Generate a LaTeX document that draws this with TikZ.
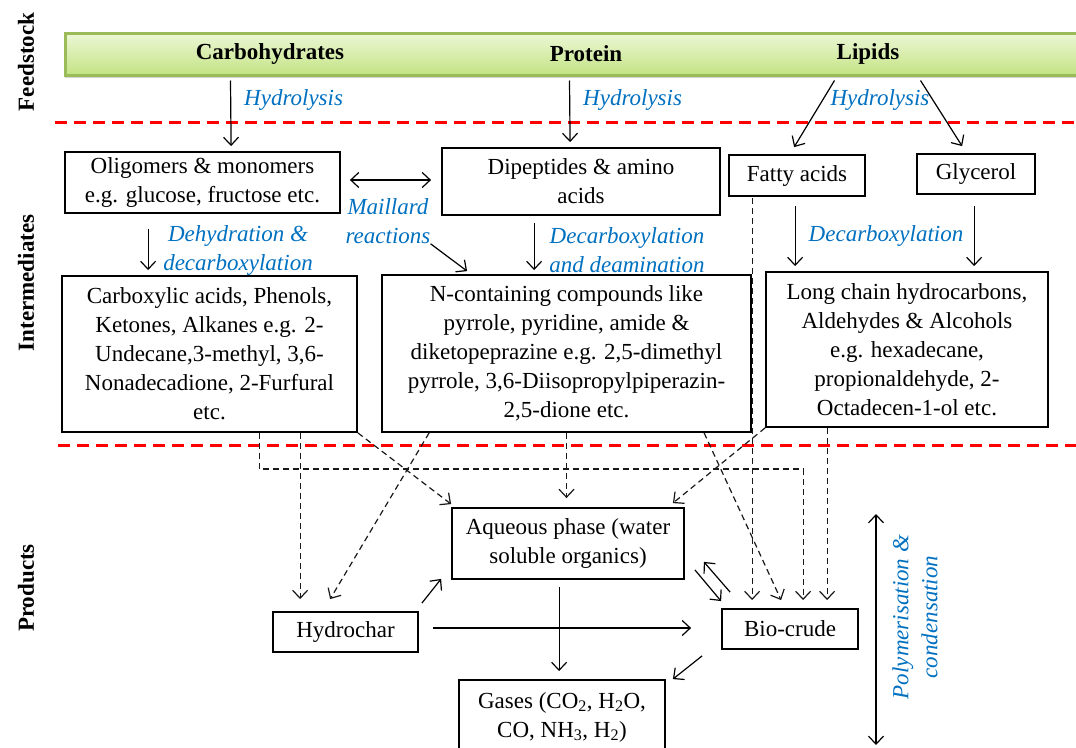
\documentclass[tikz,border=0pt]{standalone}
\usepackage{fontspec}
\setmainfont{Liberation Serif}
\usetikzlibrary{arrows.meta,shadows,calc}
\definecolor{lblue}{RGB}{0,112,192}
\definecolor{gborder}{RGB}{155,187,89}
\definecolor{gtop}{RGB}{236,247,214}
\definecolor{gbot}{RGB}{196,227,132}
\begin{document}
\begin{tikzpicture}[x=1pt,y=-1pt,
  every node/.style={font=\fontsize{23}{29}\selectfont, inner sep=0pt},
  box/.style={draw=black, line width=1.8pt, align=center},
  lbl/.style={text=lblue, font=\fontsize{23}{29}\selectfont\itshape, align=center},
  side/.style={rotate=90, font=\fontsize{23}{29}\selectfont\bfseries},
  head/.style={font=\fontsize{23}{29}\selectfont\bfseries},
  arr/.style={line width=1.2pt, -{Straight Barb[length=8pt,width=15pt]}},
  darr/.style={line width=1.2pt, {Straight Barb[length=8pt,width=15pt]}-{Straight Barb[length=8pt,width=15pt]}},
  dsh/.style={line width=1.2pt, black!90, dash pattern=on 6pt off 4pt, -{Straight Barb[length=8pt,width=15pt]}},
  redline/.style={red, line width=3pt, dash pattern=on 12pt off 7pt},
]
\useasboundingbox (0,0) rectangle (1076,747);

% feedstock bar
\node[draw=gborder, line width=3pt, top color=gtop, bottom color=gbot,
      minimum width=1015pt, minimum height=42pt,
      drop shadow={shadow xshift=0pt, shadow yshift=-3pt, opacity=0.35}] (feed) at (572.5,54) {};
\node[head] (tcarb) at (270,54) {Carbohydrates};
\node[head] (tprot) at (586,54) {Protein};
\node[head] (tlip) at (868,54) {Lipids};

% side labels
\node[side] (sfeed) at (26,62) {Feedstock};
\node[side] (sint) at (26,283) {Intermediates};
\node[side] (sprod) at (26,588) {Products};

% red separators
\coordinate (r1a) at (55,122); \coordinate (r1b) at (1076,122);
\coordinate (r2a) at (58,445); \coordinate (r2b) at (1076,445);
\draw[redline] (r1a) -- (r1b);
\draw[redline] (r2a) -- (r2b);

% boxes
\node[box, minimum width=275pt, minimum height=61pt] (olig) at (202.5,182.5) {Oligomers \& monomers\\e.g. glucose, fructose etc.};
\node[box, minimum width=278pt, minimum height=67pt] (dip) at (581,181.5) {Dipeptides \& amino\\acids};
\node[box, minimum width=136pt, minimum height=41pt] (fatty) at (797,175.5) {Fatty acids};
\node[box, minimum width=118pt, minimum height=40pt] (glyc) at (976,174) {Glycerol};
\node[box, minimum width=295pt, minimum height=156pt] (carb) at (209.5,354) {Carboxylic acids, Phenols,\\Ketones, Alkanes e.g. 2-\\Undecane,3-methyl, 3,6-\\Nonadecadione, 2-Furfural\\etc.};
\node[box, minimum width=369pt, minimum height=157pt] (ncont) at (566.5,353.5) {N-containing compounds like\\pyrrole, pyridine, amide \&\\diketopeprazine e.g. 2,5-dimethyl\\pyrrole, 3,6-Diisopropylpiperazin-\\2,5-dione etc.};
\node[box, minimum width=282pt, minimum height=155pt] (long) at (907,349.5) {Long chain hydrocarbons,\\Aldehydes \& Alcohols\\e.g. hexadecane,\\propionaldehyde, 2-\\Octadecen-1-ol etc.};
\node[box, minimum width=232pt, minimum height=71pt] (aq) at (568,543.5) {Aqueous phase (water\\soluble organics)};
\node[box, minimum width=145pt, minimum height=40pt] (hyd) at (345.5,632) {Hydrochar};
\node[box, minimum width=136pt, minimum height=40pt] (bio) at (790,629) {Bio-crude};
\node[box, minimum width=206pt, minimum height=74pt] (gas) at (562,717) {Gases (CO\textsubscript{2}, H\textsubscript{2}O,\\CO, NH\textsubscript{3}, H\textsubscript{2})};

% blue labels
\node[lbl, anchor=west] (hl1) at (244,100) {Hydrolysis};
\node[lbl, anchor=west] (hl2) at (583,100) {Hydrolysis};
\node[lbl] (hl3) at (880,100) {Hydrolysis};
\node[lbl] (mail) at (388,221) {Maillard\\reactions};
\node[lbl] (dehyd) at (238,250) {Dehydration \&\\decarboxylation};
\node[lbl] (decdeam) at (627,250) {Decarboxylation\\and deamination};
\node[lbl] (declip) at (886,236) {Decarboxylation};
\node[lbl, rotate=90] (polym) at (915,617) {Polymerisation \&\\condensation};

% solid connectors (intermediates)
\draw[arr] ($(feed.south west)+(167,4)$) -- ($(olig.north west)+(167,-5)$);
\draw[arr] ($(feed.south west)+(506,4)$) -- ($(dip.north west)+(129,-5)$);
\draw[arr] ($(feed.south west)+(771,4)$) -- ($(fatty.north west)+(66,-7)$);
\draw[arr] ($(feed.south west)+(857,4)$) -- ($(glyc.north west)+(46,-7)$);
\draw[darr] ($(olig.east)+(9,-2.5)$) -- ($(dip.west)+(-10,-1.5)$);
\draw[arr] ($(olig.south west)+(84,15)$) -- ($(carb.north west)+(87,-5)$);
\draw[arr] (mail.south east) -- ($(ncont.north west)+(86,-3)$);
\draw[arr] ($(dip.south west)+(93,7)$) -- ($(ncont.north west)+(153,-4)$);
\draw[arr] ($(fatty.south west)+(67,9)$) -- ($(long.north west)+(30,-5)$);
\draw[arr] ($(glyc.south west)+(58,11)$) -- ($(long.north west)+(209,-5)$);

% dashed connectors
\draw[dsh] ($(fatty.south west)+(24,1)$) -- ($(bio.north west)+(31,-8)$);
\draw[dsh] ($(carb.south west)+(198,0)$) -- ++(0,36) -| ($(bio.north west)+(82,-8)$);
\draw[dsh] ($(carb.south west)+(239,0)$) -- ($(hyd.north west)+(28,-12)$);
\draw[dsh] (carb.south east) -- ($(aq.north west)+(0,-3)$);
\draw[dsh] ($(ncont.south west)+(48,0)$) -- ($(hyd.north west)+(58,-12)$);
\draw[dsh] (ncont.south) -- ($(ncont.south |- aq.north)+(0,-9)$);
\draw[dsh] ($(ncont.south west)+(323,0)$) -- ($(bio.north west)+(60,-8)$);
\draw[dsh] (long.south west) -- ($(aq.north east)+(-12,-4)$);
\draw[dsh] ($(long.south west)+(62,0)$) -- ($(bio.north west)+(106,-8)$);

% products connectors
\draw[arr] ($(hyd.north east)+(3,-8)$) -- ($(aq.south west)+(-10,-1)$);
\draw[arr] ($(hyd.east)+(14,-4)$) -- ($(bio.west)+(-30,-1)$);
\draw[arr] ($(aq.south west)+(108,7)$) -- ($(gas.north west)+(101,-8)$);
\draw[arr] ($(bio.south west)+(-19,6)$) -- ($(gas.north east)+(7,0)$);
\draw[arr] ($(aq.south east)+(10,-10)$) -- ($(bio.north west)+(0,-7)$);
\draw[arr] ($(bio.north west)+(9,-16)$) -- ($(aq.south east)+(19,-18)$);

% polymerisation arrow
\coordinate (p1) at (876,514); \coordinate (p2) at (876,745);
\draw[darr] (p1) -- (p2);
\end{tikzpicture}
\end{document}
